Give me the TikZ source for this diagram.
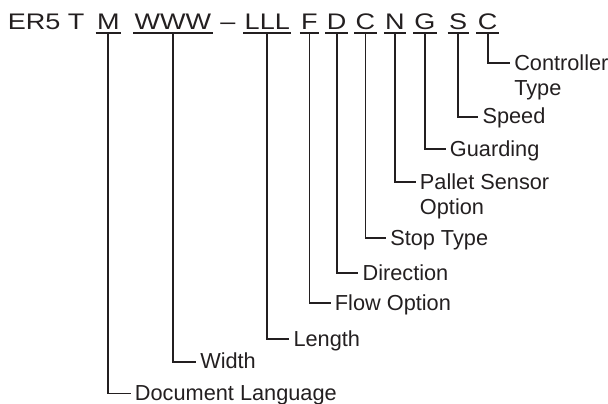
\documentclass[tikz,border=0pt]{standalone}
\usepackage{fontspec}
\setmainfont{Liberation Sans}
\newfontfamily\codefont{Liberation Sans}[FakeStretch=1.2]
\definecolor{ink}{HTML}{231F20}
\begin{document}
\begin{tikzpicture}[x=0.75pt,y=-0.75pt,
  code/.style={font=\codefont\fontsize{16.9pt}{20pt}\selectfont, text=ink, anchor=base, inner xsep=0.9pt, inner ysep=2.6pt, text depth=0pt},
  lbl/.style={font=\fontsize{16.3pt}{19.5pt}\selectfont, text=ink, anchor=west, inner xsep=3pt, inner ysep=0pt, text height=10.6pt, text depth=0pt},
  uline/.style={draw=ink, line width=1.3pt},
  conn/.style={draw=ink, line width=1.4pt, line join=miter}]
\useasboundingbox (0,0) rectangle (608,404);
% code letters
\node[code, anchor=base west, inner xsep=0pt] (er) at (7.5,29.5) {ER5 T};
\node[code] (cM) at (108.3,29.5) {M};
\node[code] (cW) at (172.8,29.5) {WWW};
\node[code] (dash) at (228,29.5) {–};
\node[code] (cL) at (267.3,29.5) {LLL};
\node[code] (cF) at (309.5,29.5) {F};
\node[code] (cD) at (336.7,29.5) {D};
\node[code] (cC) at (365.5,29.5) {C};
\node[code] (cN) at (395,29.5) {N};
\node[code] (cG) at (425,29.5) {G};
\node[code] (cS) at (458.2,29.5) {S};
\node[code] (cT) at (487.6,29.5) {C};
% underlines
\foreach \n in {cM,cW,cL,cF,cD,cC,cN,cG,cS,cT}
  \draw[uline] (\n.south west) -- (\n.south east);
% labels
\node[lbl] (lCtrl) at (510,63.3) {Controller};
\node[lbl] (lCtrlB) at (510,88.9) {Type};
\node[lbl] (lSpeed) at (478.3,116.7) {Speed};
\node[lbl] (lGuard) at (445.7,149.3) {Guarding};
\node[lbl] (lPallet) at (415.7,182.3) {Pallet Sensor};
\node[lbl] (lPalletB) at (415.7,207.9) {Option};
\node[lbl] (lStop) at (386,238.3) {Stop Type};
\node[lbl] (lDir) at (358.3,273.3) {Direction};
\node[lbl] (lFlow) at (330.7,303.3) {Flow Option};
\node[lbl] (lLen) at (289.3,339.3) {Length};
\node[lbl] (lWid) at (196,361.7) {Width};
\node[lbl] (lDoc) at (130.7,393.5) {Document Language};
% connectors
\foreach \a/\b in {cT/lCtrl,cS/lSpeed,cG/lGuard,cN/lPallet,cC/lStop,cD/lDir,cF/lFlow,cL/lLen,cW/lWid,cM/lDoc}
  \draw[conn] (\a.south) |- (\b.west);
\end{tikzpicture}
\end{document}
